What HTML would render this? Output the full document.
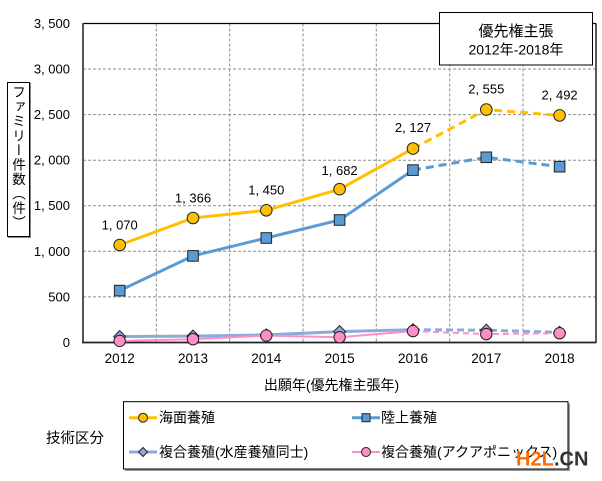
<!DOCTYPE html>
<html><head><meta charset="utf-8">
<style>
html,body{margin:0;padding:0;background:#fff;}
body{width:602px;height:481px;position:relative;overflow:hidden;font-family:"Liberation Sans","Noto Sans CJK JP",sans-serif;}
svg{position:absolute;left:0;top:0;}
.ylab{position:absolute;left:7px;top:82px;width:21px;height:153px;border:1px solid #000;box-shadow:1px 1px 0 #888;background:#fff;}
.ylab div{writing-mode:vertical-rl;text-orientation:upright;font-family:"Noto Sans CJK JP",sans-serif;font-size:13.5px;line-height:21px;letter-spacing:1px;position:absolute;left:0;top:2px;width:21px;color:#000;}
</style></head><body>
<svg width="602" height="481" viewBox="0 0 602 481" xmlns="http://www.w3.org/2000/svg" font-family="Liberation Sans, Noto Sans CJK JP, sans-serif">
<!-- grid -->
<g stroke="#8c8c8c" stroke-width="1" stroke-dasharray="3,2" fill="none">
<line x1="83" y1="69" x2="596" y2="69"/>
<line x1="83" y1="114.6" x2="596" y2="114.6"/>
<line x1="83" y1="160.2" x2="596" y2="160.2"/>
<line x1="83" y1="205.7" x2="596" y2="205.7"/>
<line x1="83" y1="251.3" x2="596" y2="251.3"/>
<line x1="83" y1="296.9" x2="596" y2="296.9"/>
<line x1="156.3" y1="23.5" x2="156.3" y2="342.5"/>
<line x1="229.7" y1="23.5" x2="229.7" y2="342.5"/>
<line x1="303" y1="23.5" x2="303" y2="342.5"/>
<line x1="376.3" y1="23.5" x2="376.3" y2="342.5"/>
<line x1="449.7" y1="23.5" x2="449.7" y2="342.5"/>
<line x1="523" y1="23.5" x2="523" y2="342.5"/>
</g>
<!-- frame -->
<line x1="83" y1="23.5" x2="596" y2="23.5" stroke="#000" stroke-width="1.3"/>
<line x1="596" y1="23.5" x2="596" y2="343" stroke="#000" stroke-width="1.3"/>
<line x1="83" y1="23" x2="83" y2="343" stroke="#555" stroke-width="2"/>
<line x1="82" y1="342.5" x2="596" y2="342.5" stroke="#222" stroke-width="1.8"/>

<!-- y tick labels -->
<g font-size="13" fill="#000" text-anchor="end">
<text x="70" y="28">3, 500</text>
<text x="70" y="73.5">3, 000</text>
<text x="70" y="119">2, 500</text>
<text x="70" y="164.7">2, 000</text>
<text x="70" y="210.2">1, 500</text>
<text x="70" y="255.8">1, 000</text>
<text x="70" y="301.4">500</text>
<text x="70" y="347">0</text>
</g>
<!-- x tick labels -->
<g font-size="13.5" fill="#000" text-anchor="middle">
<text x="119.7" y="363">2012</text>
<text x="193" y="363">2013</text>
<text x="266.3" y="363">2014</text>
<text x="339.6" y="363">2015</text>
<text x="413" y="363">2016</text>
<text x="486.3" y="363">2017</text>
<text x="559.6" y="363">2018</text>
</g>
<text x="331.5" y="390" font-size="14" text-anchor="middle" font-family="Liberation Sans, Noto Sans CJK JP, sans-serif">出願年(優先権主張年)</text>

<!-- diamond series (複合 水産養殖同士) -->
<polyline points="119.7,336.6 193,336.1 266.3,334.9 339.6,331.6 413,329.7" fill="none" stroke="#8eaadc" stroke-width="3"/>
<polyline points="413,329.7 486.3,330.2 559.6,332.3" fill="none" stroke="#8eaadc" stroke-width="3" stroke-dasharray="7,4"/>
<!-- pink series -->
<polyline points="119.7,340.9 193,339.2 266.3,335.6 339.6,337.2 413,331.1" fill="none" stroke="#ff8ec6" stroke-width="2"/>
<polyline points="413,331.1 486.3,334.1 559.6,333.2" fill="none" stroke="#ff8ec6" stroke-width="2" stroke-dasharray="6,4"/>
<!-- diamonds -->
<g fill="#8eaadc" stroke="#222" stroke-width="1">
<polygon points="119.7,330.6 125.7,336.6 119.7,342.6 113.7,336.6"/>
<polygon points="193,330.1 199,336.1 193,342.1 187,336.1"/>
<polygon points="266.3,328.9 272.3,334.9 266.3,340.9 260.3,334.9"/>
<polygon points="339.6,325.6 345.6,331.6 339.6,337.6 333.6,331.6"/>
<polygon points="413,323.7 419,329.7 413,335.7 407,329.7"/>
<polygon points="486.3,324.2 492.3,330.2 486.3,336.2 480.3,330.2"/>
<polygon points="559.6,326.3 565.6,332.3 559.6,338.3 553.6,332.3"/>
</g>
<!-- pink circles -->
<g fill="#ff8ec6" stroke="#222" stroke-width="1">
<circle cx="119.7" cy="340.9" r="5.7"/>
<circle cx="193" cy="339.2" r="5.7"/>
<circle cx="266.3" cy="335.6" r="5.7"/>
<circle cx="339.6" cy="337.2" r="5.7"/>
<circle cx="413" cy="331.1" r="5.7"/>
<circle cx="486.3" cy="334.1" r="5.7"/>
<circle cx="559.6" cy="333.2" r="5.7"/>
</g>

<!-- blue series -->
<polyline points="119.7,290.6 193,255.9 266.3,238 339.6,220 413,170.1" fill="none" stroke="#5b9bd5" stroke-width="3"/>
<polyline points="413,170.1 486.3,157.3 559.6,166.7" fill="none" stroke="#5b9bd5" stroke-width="3" stroke-dasharray="8,5"/>
<g fill="#5b9bd5" stroke="#222" stroke-width="1">
<rect x="114.4" y="285.3" width="10.6" height="10.6"/>
<rect x="187.7" y="250.6" width="10.6" height="10.6"/>
<rect x="261" y="232.7" width="10.6" height="10.6"/>
<rect x="334.3" y="214.7" width="10.6" height="10.6"/>
<rect x="407.7" y="164.8" width="10.6" height="10.6"/>
<rect x="481" y="152" width="10.6" height="10.6"/>
<rect x="554.3" y="161.4" width="10.6" height="10.6"/>
</g>

<!-- yellow series -->
<polyline points="119.7,245 193,218 266.3,210.3 339.6,189.2 413,148.6" fill="none" stroke="#ffc000" stroke-width="3"/>
<polyline points="413,148.6 486.3,109.6 559.6,115.4" fill="none" stroke="#ffc000" stroke-width="3" stroke-dasharray="8,5"/>
<g fill="#ffc000" stroke="#222" stroke-width="1">
<circle cx="119.7" cy="245" r="5.8"/>
<circle cx="193" cy="218" r="5.8"/>
<circle cx="266.3" cy="210.3" r="5.8"/>
<circle cx="339.6" cy="189.2" r="5.8"/>
<circle cx="413" cy="148.6" r="5.8"/>
<circle cx="486.3" cy="109.6" r="5.8"/>
<circle cx="559.6" cy="115.4" r="5.8"/>
</g>
<!-- data labels -->
<g font-size="13" fill="#000" text-anchor="middle">
<text x="119.7" y="229.5">1, 070</text>
<text x="193" y="202.5">1, 366</text>
<text x="266.3" y="194.5">1, 450</text>
<text x="339.6" y="175">1, 682</text>
<text x="413" y="132">2, 127</text>
<text x="486.3" y="93.5">2, 555</text>
<text x="559.6" y="99.5">2, 492</text>
</g>

<!-- annotation box -->
<rect x="439.5" y="12.5" width="153" height="52.5" fill="#fff" stroke="#000" stroke-width="1"/>
<text x="516" y="36" font-size="15" text-anchor="middle" font-family="Noto Sans CJK JP, sans-serif">優先権主張</text>
<text x="516" y="54.5" font-size="14" text-anchor="middle">2012年-2018年</text>

<!-- legend -->
<text x="46" y="443" font-size="14.5" font-family="Noto Sans CJK JP, sans-serif">技術区分</text>
<rect x="125" y="403.5" width="445" height="67.5" fill="#999"/>
<rect x="123.5" y="401.7" width="444.5" height="67.3" fill="#fff" stroke="#000" stroke-width="1"/>
<line x1="129" y1="417.7" x2="157" y2="417.7" stroke="#ffc000" stroke-width="3"/>
<circle cx="143" cy="417.7" r="4.5" fill="#ffc000" stroke="#222" stroke-width="1"/>
<text x="159" y="422.7" font-size="14" font-family="Noto Sans CJK JP, sans-serif">海面養殖</text>
<line x1="352" y1="417.7" x2="380" y2="417.7" stroke="#5b9bd5" stroke-width="3"/>
<rect x="362" y="413.7" width="8" height="8" fill="#5b9bd5" stroke="#222" stroke-width="1"/>
<text x="381" y="422.7" font-size="14" font-family="Noto Sans CJK JP, sans-serif">陸上養殖</text>
<line x1="129" y1="452" x2="157" y2="452" stroke="#8eaadc" stroke-width="3"/>
<polygon points="143,447.5 147.5,452 143,456.5 138.5,452" fill="#8eaadc" stroke="#222" stroke-width="1"/>
<text x="159" y="457" font-size="14">複合養殖(水産養殖同士)</text>
<line x1="352" y1="452" x2="380" y2="452" stroke="#ff8ec6" stroke-width="2"/>
<circle cx="366" cy="452" r="4.5" fill="#ff8ec6" stroke="#222" stroke-width="1"/>
<text x="381" y="457" font-size="14">複合養殖(アクアポニックス)</text>

<!-- watermark -->
<text x="516" y="465.5" font-size="20" font-weight="bold" fill="#ff6a00">H2L</text>
<text x="554" y="465.5" font-size="20" font-weight="bold" fill="#333">.CN</text>
</svg>
<div class="ylab"><div>ファミリー件数（件）</div></div>
</body></html>
